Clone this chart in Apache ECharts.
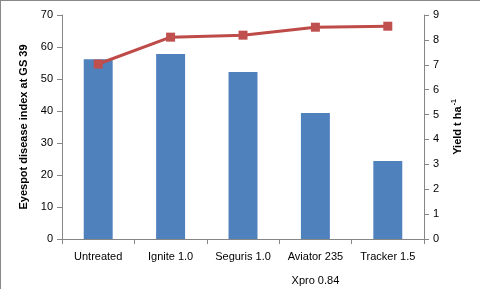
<!DOCTYPE html>
<html>
<head>
<meta charset="utf-8">
<script src="https://cdn.jsdelivr.net/npm/echarts@6/dist/echarts.min.js"></script>
<style>
  html, body { margin: 0; padding: 0; background: #fff; }
  #chart { width: 480px; height: 289px; }
</style>
</head>
<body>
<div id="chart"></div>
<script>
// data
var categories = ['Untreated', 'Ignite 1.0', 'Seguris 1.0', 'Aviator 235\nXpro 0.84', 'Tracker 1.5']
var diseaseIndex = [56.2, 57.8, 52.2, 39.4, 24.4]
var yieldValues = [7.03, 8.11, 8.19, 8.51, 8.55]
var leftTicks = { min: 0, max: 70, interval: 10 }
var rightTicks = { min: 0, max: 9, interval: 1 }

var chart = echarts.init(document.getElementById('chart'))
var axisGray = '#868686'
var textStyle = { color: '#000', fontFamily: 'Liberation Sans', fontSize: 11 }

chart.setOption({
  animation: false,
  grid: { left: 62, right: 56, top: 15, bottom: 50, outerBoundsMode: 'none', containLabel: false },
  graphic: [
    { type: 'line', shape: { x1: 0, y1: 0.5, x2: 480, y2: 0.5 }, style: { stroke: '#888', lineWidth: 1 } },
    { type: 'line', shape: { x1: 0.5, y1: 0, x2: 0.5, y2: 289 }, style: { stroke: '#888', lineWidth: 1 } }
  ],
  xAxis: {
    type: 'category',
    data: categories,
    axisLine: { lineStyle: { color: axisGray } },
    axisTick: { show: true, length: 5, alignWithLabel: false, lineStyle: { color: axisGray } },
    axisLabel: Object.assign({ margin: 6, lineHeight: 24, interval: 0 }, textStyle)
  },
  yAxis: [{
    type: 'value',
    min: leftTicks.min,
    max: leftTicks.max,
    interval: leftTicks.interval,
    name: 'Eyespot disease index at GS 39',
    nameLocation: 'middle',
    nameGap: 30,
    nameTextStyle: { color: '#000', fontFamily: 'Liberation Sans', fontSize: 11, fontWeight: 'bold' },
    splitLine: { show: false },
    axisLine: { show: true, lineStyle: { color: axisGray } },
    axisTick: { show: true, length: 5, lineStyle: { color: axisGray } },
    axisLabel: Object.assign({ margin: 9 }, textStyle)
  }, {
    type: 'value',
    position: 'right',
    min: rightTicks.min,
    max: rightTicks.max,
    interval: rightTicks.interval,
    name: '{t|Yield t ha}{s|-1}',
    nameLocation: 'middle',
    nameGap: 27,
    nameTextStyle: {
      rich: {
        t: { color: '#000', fontFamily: 'Liberation Sans', fontSize: 11, fontWeight: 'bold' },
        s: { color: '#000', fontFamily: 'Liberation Sans', fontSize: 7, fontWeight: 'bold', verticalAlign: 'top', padding: [0, 0, 6, 1] }
      }
    },
    splitLine: { show: false },
    axisLine: { show: true, lineStyle: { color: axisGray } },
    axisTick: { show: true, length: 5, lineStyle: { color: axisGray } },
    axisLabel: Object.assign({ margin: 9 }, textStyle)
  }],
  series: [{
    type: 'bar',
    data: diseaseIndex,
    barWidth: '40%',
    itemStyle: { color: '#4f81bd' }
  }, {
    type: 'line',
    yAxisIndex: 1,
    data: yieldValues,
    symbol: 'rect',
    symbolSize: 9,
    lineStyle: { color: '#be4b48', width: 3 },
    itemStyle: { color: '#c0504d' }
  }]
})
</script>
</body>
</html>
